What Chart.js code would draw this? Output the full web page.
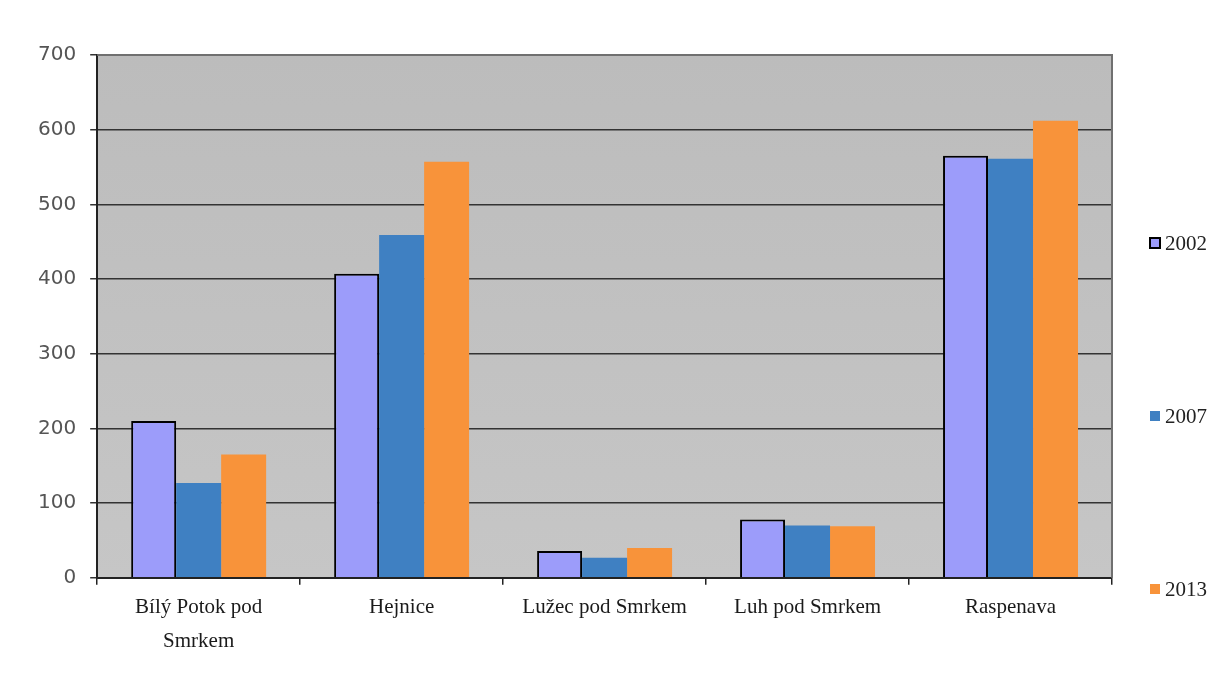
<!DOCTYPE html>
<html>
<head>
<meta charset="utf-8">
<script src="https://cdn.jsdelivr.net/npm/chart.js@4"></script>
<style>
  html, body { margin: 0; padding: 0; background: #fff; }
  #wrap { width: 1231px; height: 680px; }
</style>
</head>
<body>
<div id="wrap"><canvas id="myChart"></canvas></div>
<script>
const categories = [["Bílý Potok pod", "Smrkem"], "Hejnice", "Lužec pod Smrkem", "Luh pod Smrkem", "Raspenava"]
const years = ["2002", "2007", "2013"]
const values2002 = [210, 407, 36, 78, 565]
const values2007 = [127, 459, 27, 70, 561]
const values2013 = [165, 557, 40, 69, 612]
const yTicks = [0, 100, 200, 300, 400, 500, 600, 700]

const ctx = document.getElementById('myChart')

// grey plot area with a frame, like the old Excel look
const plotBackground = {
  id: 'plotBackground',
  beforeDraw(chart) {
    const { ctx, chartArea: a } = chart
    ctx.save()
    const g = ctx.createLinearGradient(0, a.top, 0, a.bottom)
    g.addColorStop(0, '#bcbcbc')
    g.addColorStop(1, '#c6c6c6')
    ctx.fillStyle = g
    ctx.fillRect(a.left, a.top, a.right - a.left, a.bottom - a.top)
    ctx.restore()
  },
  afterDraw(chart) {
    const { ctx, chartArea: a } = chart
    ctx.save()
    ctx.strokeStyle = '#707070'
    ctx.lineWidth = 2
    ctx.beginPath()
    ctx.moveTo(a.left, a.top)
    ctx.lineTo(a.right, a.top)
    ctx.lineTo(a.right, a.bottom)
    ctx.stroke()
    ctx.restore()
  }
}

// legend items spread down the right side
const sideLegend = {
  id: 'sideLegend',
  afterDraw(chart) {
    const { ctx, chartArea: a } = chart
    ctx.save()
    ctx.font = '21px "Liberation Serif"'
    ctx.textBaseline = 'middle'
    chart.data.datasets.forEach((ds, i) => {
      const y = a.top + 188 + i * 173
      const x = a.right + 38
      ctx.fillStyle = ds.backgroundColor
      ctx.fillRect(x, y - 5, 10, 10)
      if (ds.borderWidth) {
        ctx.strokeStyle = '#000'
        ctx.lineWidth = 2
        ctx.strokeRect(x, y - 5, 10, 10)
      }
      ctx.fillStyle = '#222'
      ctx.fillText(ds.label, x + 15, y + 1)
    })
    ctx.restore()
  }
}

new Chart(ctx, {
  type: 'bar',
  data: {
    labels: categories,
    datasets: [{
      label: years[0],
      data: values2002,
      backgroundColor: '#9c9cfa',
      borderColor: '#000',
      borderWidth: 2
    }, {
      label: years[1],
      data: values2007,
      backgroundColor: '#3f80c2',
      borderWidth: 0
    }, {
      label: years[2],
      data: values2013,
      backgroundColor: '#f8933a',
      borderWidth: 0
    }]
  },
  plugins: [plotBackground, sideLegend],
  options: {
    responsive: true,
    maintainAspectRatio: false,
    animation: false,
    layout: {
      padding: { left: 24, right: 119, top: 55, bottom: 16 }
    },
    datasets: {
      bar: {
        barPercentage: 1,
        categoryPercentage: 0.665
      }
    },
    plugins: {
      legend: { display: false },
      tooltip: { enabled: false }
    },
    scales: {
      x: {
        grid: {
          drawOnChartArea: false,
          drawTicks: true,
          tickLength: 7,
          color: '#222',
          lineWidth: 1.5
        },
        border: { color: '#222', width: 2 },
        ticks: {
          maxRotation: 0,
          autoSkip: false,
          padding: 6,
          color: '#1a1a1a',
          font: { family: '"Liberation Serif"', size: 21, lineHeight: 1.6 }
        }
      },
      y: {
        min: 0,
        max: 700,
        afterBuildTicks(axis) {
          axis.ticks = yTicks.map(v => ({ value: v }))
        },
        grid: {
          color: '#333',
          lineWidth: 1.5,
          tickLength: 7
        },
        border: { color: '#222', width: 2 },
        ticks: {
          padding: 14,
          color: '#555',
          font: { family: '"DejaVu Sans"', size: 20 }
        }
      }
    }
  }
})
</script>
</body>
</html>
